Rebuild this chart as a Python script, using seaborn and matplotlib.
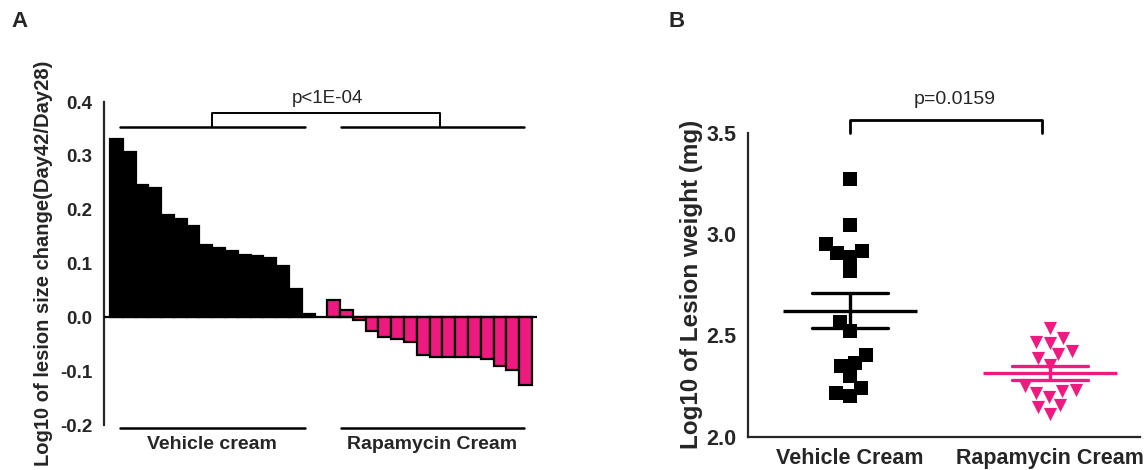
"""
Two-panel figure: lesion size change waterfall (A) and lesion weight scatter (B).
"""

import matplotlib

matplotlib.use("Agg")

import matplotlib.pyplot as plt
import pandas as pd
import seaborn as sns
from matplotlib.ticker import FormatStrFormatter


# Panel A: log10 lesion size change per animal, sorted
VEHICLE_CHANGE = [0.331, 0.308, 0.245, 0.240, 0.191, 0.182, 0.170, 0.135,
                  0.128, 0.123, 0.115, 0.114, 0.110, 0.095, 0.053, 0.006]
RAPA_CHANGE = [0.032, 0.014, -0.005, -0.026, -0.037, -0.041, -0.046, -0.069,
               -0.073, -0.073, -0.073, -0.073, -0.077, -0.091, -0.097, -0.125]
GROUPS_A = ["Vehicle cream", "Rapamycin Cream"]
Y_TICKS_A = [-0.2, -0.1, 0.0, 0.1, 0.2, 0.3, 0.4]

# Panel B: log10 lesion weight per animal
VEHICLE_WEIGHT = [3.271, 3.046, 2.949, 2.918, 2.908, 2.888, 2.818, 2.564,
                  2.520, 2.403, 2.365, 2.349, 2.299, 2.239, 2.214, 2.201]
RAPA_WEIGHT = [2.535, 2.485, 2.469, 2.461, 2.424, 2.406, 2.390, 2.354,
               2.250, 2.230, 2.225, 2.214, 2.197, 2.156, 2.148, 2.112]
GROUPS_B = ["Vehicle Cream", "Rapamycin Cream"]
Y_TICKS_B = [2.0, 2.5, 3.0, 3.5]

PINK = "#EE1A80"
FONT = ["Liberation Sans", "DejaVu Sans"]


def style_axis(ax, tick_size):
    ax.spines[["top", "right"]].set_visible(False)
    for side in ["left", "bottom"]:
        ax.spines[side].set_linewidth(1.6)
    ax.tick_params(width=1.6, length=5, direction="out")
    for label in ax.get_yticklabels() + ax.get_xticklabels():
        label.set_fontweight("bold")
        label.set_fontsize(tick_size)


def draw_waterfall(ax):
    vehicle_ids = [f"V{i}" for i in range(len(VEHICLE_CHANGE))]
    rapa_ids = [f"R{i}" for i in range(len(RAPA_CHANGE))]
    df = pd.DataFrame({
        "animal": vehicle_ids + rapa_ids,
        "change": VEHICLE_CHANGE + RAPA_CHANGE,
        "group": [GROUPS_A[0]] * len(vehicle_ids) + [GROUPS_A[1]] * len(rapa_ids),
    })
    # an empty slot separates the two groups
    order = vehicle_ids + ["gap"] + rapa_ids

    sns.barplot(data=df, x="animal", y="change", hue="group", order=order,
                palette={GROUPS_A[0]: "black", GROUPS_A[1]: PINK},
                dodge=False, width=1.0, errorbar=None, saturation=1,
                edgecolor="black", linewidth=1.6, legend=False, ax=ax)
    ax.axhline(0, color="black", lw=1.6, zorder=3)

    ax.set_xlim(-0.97, 32.9)
    ax.set_ylim(-0.2, 0.4)
    ax.set_yticks(Y_TICKS_A)
    ax.yaxis.set_major_formatter(FormatStrFormatter("%.1f"))
    ax.set_xticks([])
    ax.set_xlabel("")
    ax.set_ylabel("Log10 of lesion size change(Day42/Day28)", fontsize=14.5,
                  fontweight="bold", labelpad=5)
    style_axis(ax, 13.5)
    ax.spines["bottom"].set_visible(False)

    # group bars and significance bracket
    spans = [(0.3, 14.75), (17.6, 31.9)]
    label_x = [7.45, 24.7]
    bracket_x = [7.48, 25.3]
    for (x0, x1), xl, name in zip(spans, label_x, GROUPS_A):
        ax.plot([x0, x1], [0.353, 0.353], color="black", lw=1.8, clip_on=False)
        ax.plot([x0, x1], [-0.206, -0.206], color="black", lw=1.8, clip_on=False)
        ax.text(xl, -0.237, name, ha="center", va="center", fontsize=14,
                fontweight="bold", clip_on=False)
    ax.plot([bracket_x[0], bracket_x[0], bracket_x[1], bracket_x[1]],
            [0.353, 0.379, 0.379, 0.353], color="black", lw=1.4, clip_on=False)
    ax.text(16.5, 0.407, "p<1E-04", ha="center", va="center", fontsize=13.5,
            clip_on=False)


def draw_scatter(ax):
    df = pd.DataFrame({
        "group": [GROUPS_B[0]] * len(VEHICLE_WEIGHT) + [GROUPS_B[1]] * len(RAPA_WEIGHT),
        "weight": VEHICLE_WEIGHT + RAPA_WEIGHT,
    })
    colors = {GROUPS_B[0]: "black", GROUPS_B[1]: PINK}

    for grp, marker in zip(GROUPS_B, ["s", "v"]):
        sns.swarmplot(data=df[df["group"] == grp], x="group", y="weight",
                      order=GROUPS_B, color=colors[grp], marker=marker, size=9.5,
                      linewidth=0, ax=ax)

    # mean line with SEM whiskers
    sns.pointplot(data=df, x="group", y="weight", hue="group", order=GROUPS_B,
                  palette=colors, errorbar="se", capsize=0.38, markers="_",
                  markersize=97, markeredgewidth=2.4, linestyle="none",
                  err_kws={"linewidth": 2.4}, legend=False, ax=ax)

    ax.set_xlim(-0.51, 1.45)
    ax.set_ylim(2.0, 3.5)
    ax.set_yticks(Y_TICKS_B)
    ax.yaxis.set_major_formatter(FormatStrFormatter("%.1f"))
    ax.set_xlabel("")
    ax.set_ylabel("Log10 of Lesion weight (mg)", fontsize=17.5,
                  fontweight="bold", labelpad=2)
    style_axis(ax, 15.5)

    ax.plot([0, 0, 0.958, 0.958], [3.5, 3.562, 3.562, 3.5], color="black",
            lw=2.0, clip_on=False)
    ax.text(0.523, 3.665, "p=0.0159", ha="center", va="center", fontsize=14,
            clip_on=False)


def main():
    sns.set_theme(style="white")
    plt.rcParams["font.family"] = FONT

    fig = plt.figure(figsize=(11.44, 4.70), dpi=100)
    ax_a = fig.add_axes([0.0909, 0.0957, 0.3785, 0.6872])
    ax_b = fig.add_axes([0.6538, 0.0709, 0.3427, 0.6468])

    draw_waterfall(ax_a)
    draw_scatter(ax_b)

    fig.text(0.017, 0.955, "A", fontsize=16, fontweight="bold", va="center", ha="center")
    fig.text(0.591, 0.955, "B", fontsize=16, fontweight="bold", va="center", ha="center")

    fig.savefig("out.png", dpi=100, facecolor="white")
    plt.close(fig)


if __name__ == "__main__":
    main()
